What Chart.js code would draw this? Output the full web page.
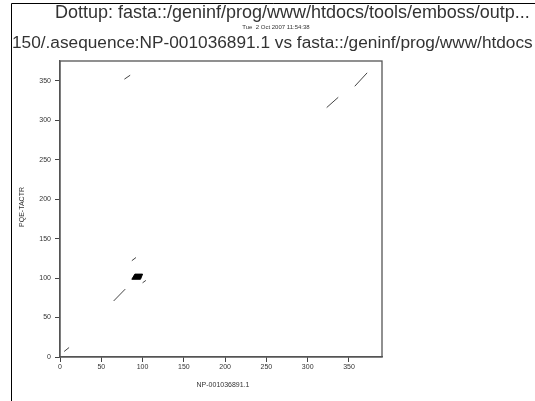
<!DOCTYPE html>
<html>
<head>
<meta charset="utf-8">
<script src="https://cdn.jsdelivr.net/npm/chart.js@4/dist/chart.umd.min.js"></script>
<style>
html,body{margin:0;padding:0;background:#fff;}
#wrap{position:relative;width:535px;height:401px;}
canvas{display:block;}
</style>
</head>
<body>
<div id="wrap"><canvas id="c" width="535" height="401"></canvas></div>
<script>
// ---- data (sequence positions) ----
const titleLine1 = "Dottup: fasta::/geninf/prog/www/htdocs/tools/emboss/outp...";
const dateLine = "Tue  2 Oct 2007 11:54:38";
const titleLine3 = "150/.asequence:NP-001036891.1 vs fasta::/geninf/prog/www/htdocs";
const xTitle = "NP-001036891.1";
const yTitle = "PQE-TACTR";
const xTicks = [0, 50, 100, 150, 200, 250, 300, 350];
const yTicks = [0, 50, 100, 150, 200, 250, 300, 350];
const xMax = 390;
const yMax = 375;
// diagonal match segments: start (x1,y1) -> end (x2,y2)
const segX1 = [5, 65, 87, 100, 78, 323, 357];
const segY1 = [7, 71, 122, 94, 352, 316, 343];
const segX2 = [11, 79, 92, 104, 85, 337, 372];
const segY2 = [12, 86, 126, 97, 357, 329, 360];
// dense repeat block (filled)
const blockX = [87, 97.5, 100, 90.7];
const blockY = [98.5, 98.5, 105, 105];

const datasets = segX1.map((x, i) => ({
  data: [{x: x, y: segY1[i]}, {x: segX2[i], y: segY2[i]}],
  showLine: true, borderColor: '#444', borderWidth: 1, pointRadius: 0, fill: false
}));
datasets.push({
  data: blockX.map((x, i) => ({x: x, y: blockY[i]})).concat([{x: blockX[0], y: blockY[0]}]),
  showLine: true, borderColor: '#000', backgroundColor: '#000', borderWidth: 1,
  pointRadius: 0, fill: 'shape', tension: 0
});

const PLOT = {left: 60, top: 61, right: 382, bottom: 357};
const FAM = '"Liberation Sans", Arial, sans-serif';

function fitText(ctx, text, family, targetWidth, base) {
  ctx.font = base + 'px ' + family;
  const w = ctx.measureText(text).width;
  return base * targetWidth / w;
}

const decor = {
  id: 'decor',
  beforeDraw(chart) {
    const ctx = chart.ctx;
    ctx.save();
    ctx.fillStyle = '#fff';
    ctx.fillRect(0, 0, chart.width, chart.height);
    ctx.strokeStyle = '#000';
    ctx.lineWidth = 1;
    ctx.beginPath();
    ctx.moveTo(11.5, 401);
    ctx.lineTo(11.5, 3.5);
    ctx.lineTo(535, 3.5);
    ctx.stroke();
    ctx.fillStyle = '#333';
    ctx.textBaseline = 'alphabetic';
    ctx.textAlign = 'left';
    let fs = fitText(ctx, titleLine1, FAM, 475, 16);
    ctx.font = fs + 'px ' + FAM;
    ctx.fillText(titleLine1, 55, 18);
    fs = fitText(ctx, titleLine3, FAM, 521, 16);
    ctx.font = fs + 'px ' + FAM;
    ctx.fillText(titleLine3, 12, 48);
    ctx.textAlign = 'center';
    ctx.font = '6px ' + FAM;
    ctx.fillText(dateLine, 276, 29);
    // axis titles
    ctx.font = '7px ' + FAM;
    ctx.textBaseline = 'middle';
    ctx.fillText(xTitle, 223, 385);
    ctx.translate(22, 207);
    ctx.rotate(-Math.PI / 2);
    ctx.fillText(yTitle, 0, 0);
    ctx.restore();
  },
  afterDatasetsDraw(chart) {
    const a = chart.chartArea;
    const ctx = chart.ctx;
    ctx.save();
    ctx.strokeStyle = '#555';
    ctx.lineWidth = 1.3;
    ctx.strokeRect(a.left, a.top, a.right - a.left, a.bottom - a.top);
    ctx.restore();
  }
};

new Chart(document.getElementById('c'), {
  type: 'scatter',
  data: {datasets: datasets},
  plugins: [decor],
  options: {
    responsive: false,
    animation: false,
    devicePixelRatio: 1,
    layout: {padding: {left: 0, top: PLOT.top, right: 535 - PLOT.right, bottom: 0}},
    plugins: {legend: {display: false}, tooltip: {enabled: false}},
    scales: {
      x: {
        type: 'linear', min: 0, max: xMax,
        afterBuildTicks: s => { s.ticks = xTicks.map(v => ({value: v})); },
        afterFit: s => { s.height = 401 - PLOT.bottom; },
        grid: {display: true, drawOnChartArea: false, drawTicks: true, tickLength: 5, color: '#444', lineWidth: 1},
        border: {display: true, color: '#555', width: 1.3},
        ticks: {font: {size: 7, family: FAM}, color: '#333', padding: 1, maxRotation: 0},
        title: {display: false}
      },
      y: {
        type: 'linear', min: 0, max: yMax,
        afterBuildTicks: s => { s.ticks = yTicks.map(v => ({value: v})); },
        afterFit: s => { s.width = PLOT.left; },
        grid: {display: true, drawOnChartArea: false, drawTicks: true, tickLength: 5, color: '#444', lineWidth: 1},
        border: {display: true, color: '#555', width: 1.3},
        ticks: {font: {size: 7, family: FAM}, color: '#333', padding: 4},
        title: {display: false}
      }
    }
  }
});
</script>
</body>
</html>
